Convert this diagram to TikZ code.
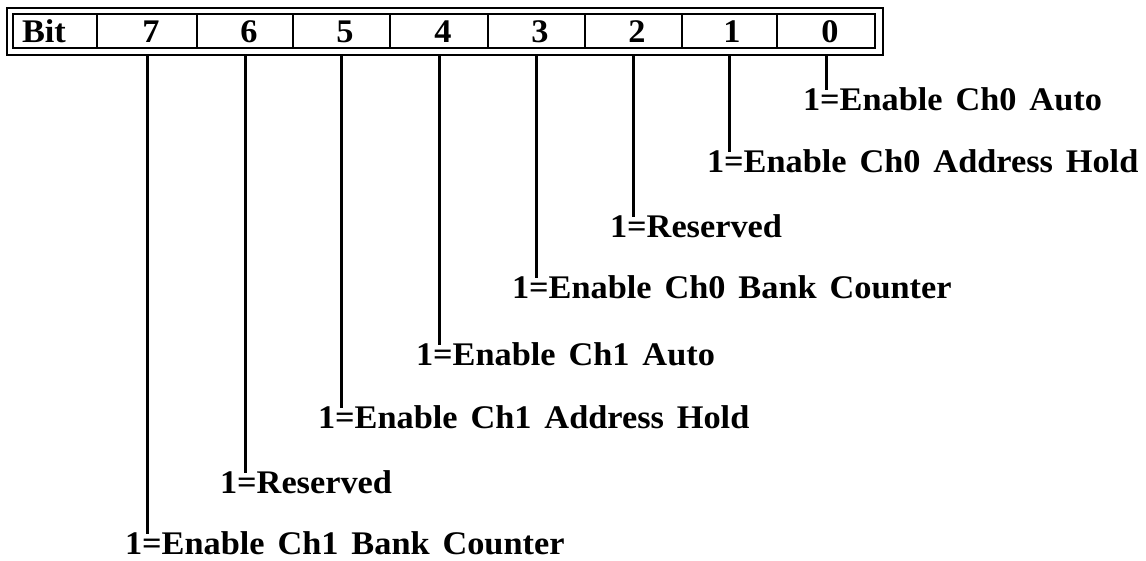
\documentclass[tikz,border=0pt]{standalone}
\usepackage{fontspec}
\setmainfont{Liberation Serif}[WordSpace=1.5, FakeStretch=1.04]
\begin{document}
\begin{tikzpicture}[x=1pt,y=-1pt,
  txt/.style={font=\bfseries\fontsize{33}{36}\selectfont, inner sep=0pt, outer sep=0pt, text height=20pt, text depth=2pt},
  cell/.style={draw, line width=2.2pt, minimum height=34pt, inner sep=0pt},
  frame/.style={draw, line width=2pt, inner sep=0pt},
  conn/.style={line width=3pt},
  lbl/.style={txt, anchor=base west}]
\useasboundingbox (0,0) rectangle (1146,560);
\fill[white] (0,0) rectangle (1146,560);
% outer frame
\node[frame, minimum width=876pt, minimum height=47pt] (outer) at (445,31.5) {};
% cells
\node[cell, minimum width=84pt] (cb) at (55,31) {};
\node[cell, minimum width=100pt] (c7) at (147,31) {};
\node[cell, minimum width=96pt] (c6) at (245,31) {};
\node[cell, minimum width=97pt] (c5) at (341.5,31) {};
\node[cell, minimum width=98pt] (c4) at (439,31) {};
\node[cell, minimum width=97pt] (c3) at (536.5,31) {};
\node[cell, minimum width=97pt] (c2) at (633.5,31) {};
\node[cell, minimum width=95pt] (c1) at (729.5,31) {};
\node[cell, minimum width=98pt] (c0) at (826,31) {};
% cell texts
\node[txt, anchor=base west] (tb) at (22,42) {Bit};
\node[txt, anchor=base] (t7) at (151,42) {7};
\node[txt, anchor=base] (t6) at (249,42) {6};
\node[txt, anchor=base] (t5) at (345,42) {5};
\node[txt, anchor=base] (t4) at (443,42) {4};
\node[txt, anchor=base] (t3) at (540,42) {3};
\node[txt, anchor=base] (t2) at (637,42) {2};
\node[txt, anchor=base] (t1) at (732,42) {1};
\node[txt, anchor=base] (t0) at (830,42) {0};
% labels
\node[lbl] (l0) at (803,110) {1=Enable Ch0 Auto};
\node[lbl] (l1) at (707,172) {1=Enable Ch0 Address Hold};
\node[lbl] (l2) at (610,237) {1=Reserved};
\node[lbl] (l3) at (512,298) {1=Enable Ch0 Bank Counter};
\node[lbl] (l4) at (416,365) {1=Enable Ch1 Auto};
\node[lbl] (l5) at (318,428) {1=Enable Ch1 Address Hold};
\node[lbl] (l6) at (220,493) {1=Reserved};
\node[lbl] (l7) at (125,554) {1=Enable Ch1 Bank Counter};
% connectors
\foreach \i in {0,...,7}{
  \draw[conn] (c\i.center |- outer.south) -- (c\i.center |- l\i.north);
}
\end{tikzpicture}
\end{document}
